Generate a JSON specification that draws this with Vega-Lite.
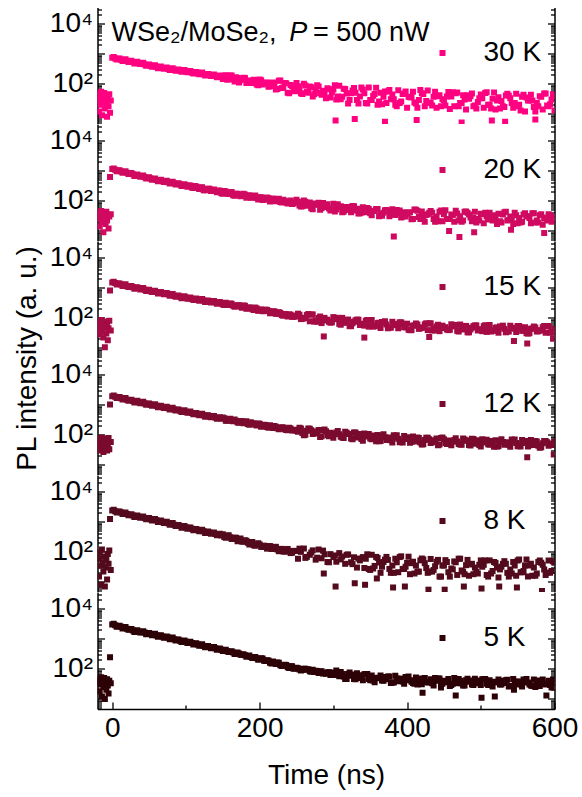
{
"$schema": "https://vega.github.io/schema/vega-lite/v6.json",
"background": "#ffffff",
"padding": {"left": 12.5, "top": 7.5, "right": 4, "bottom": 4},
"spacing": 0,
"bounds": "flush",
"datasets": {
"p30": [{"t":-19,"v":30},{"t":-18,"v":12},{"t":-17,"v":45},{"t":-16,"v":20},{"t":-15,"v":55},{"t":-14,"v":9},{"t":-13,"v":35},{"t":-12,"v":25},{"t":-11,"v":50},{"t":-10,"v":15},{"t":-9,"v":40},{"t":-8,"v":22},{"t":-7,"v":8},{"t":-6,"v":30},{"t":-5,"v":18},{"t":-4,"v":45},{"t":-3,"v":11},{"t":-2,"v":28},
{"t":0,"v":740},{"t":4,"v":705},{"t":8,"v":680},{"t":12,"v":640},{"t":16,"v":620},{"t":20,"v":585},{"t":24,"v":565},{"t":28,"v":535},{"t":32,"v":515},{"t":36,"v":488},{"t":40,"v":470},{"t":44,"v":445},{"t":48,"v":428},{"t":52,"v":405},{"t":56,"v":390},{"t":60,"v":370},
{"t":64,"v":365},{"t":68,"v":340},{"t":72,"v":335},{"t":76,"v":315},{"t":80,"v":312},{"t":84,"v":295},{"t":88,"v":292},{"t":92,"v":276},{"t":96,"v":275},{"t":100,"v":258},{"t":104,"v":258},{"t":108,"v":240},{"t":112,"v":240},{"t":116,"v":225},{"t":120,"v":226},{"t":124,"v":208},{"t":128,"v":210},{"t":132,"v":196},{"t":136,"v":194},{"t":140,"v":182},{"t":144,"v":180},{"t":148,"v":170},
{"t":152,"v":185},{"t":156,"v":138},{"t":160,"v":191},{"t":164,"v":140},{"t":168,"v":167},{"t":172,"v":111},{"t":176,"v":142},{"t":180,"v":158},{"t":184,"v":112},{"t":188,"v":120},{"t":192,"v":137},{"t":196,"v":95},{"t":200,"v":139},{"t":204,"v":96},{"t":208,"v":109},{"t":212,"v":80},{"t":216,"v":106},
{"t":220,"v":97},{"t":224,"v":68},{"t":228,"v":130},{"t":232,"v":76},{"t":236,"v":104},{"t":240,"v":49},{"t":244,"v":85},{"t":248,"v":57},{"t":252,"v":84},{"t":256,"v":49},{"t":260,"v":100},{"t":264,"v":55},{"t":268,"v":82},{"t":272,"v":38},{"t":276,"v":64},{"t":280,"v":81},{"t":284,"v":43},{"t":288,"v":50},{"t":292,"v":72},{"t":296,"v":35},
{"t":300,"v":65},{"t":304,"v":30},{"t":308,"v":87},{"t":312,"v":37},{"t":316,"v":68},{"t":320,"v":22},{"t":324,"v":49},{"t":328,"v":73},{"t":332,"v":29},{"t":336,"v":38},{"t":340,"v":65},{"t":344,"v":23},{"t":348,"v":76},{"t":352,"v":29},{"t":356,"v":46},{"t":360,"v":20},{"t":364,"v":51},{"t":368,"v":37},{"t":372,"v":23},{"t":376,"v":63},{"t":380,"v":44},{"t":384,"v":20},{"t":388,"v":61},{"t":392,"v":26},{"t":396,"v":48},{"t":400,"v":16},{"t":404,"v":36},{"t":408,"v":55},{"t":412,"v":22},{"t":416,"v":29},{"t":420,"v":49},{"t":424,"v":18},{"t":428,"v":60},{"t":432,"v":23},{"t":436,"v":37},{"t":440,"v":16},{"t":444,"v":42},{"t":448,"v":31},{"t":452,"v":19},{"t":456,"v":54},{"t":460,"v":38},{"t":464,"v":18},{"t":468,"v":52},{"t":472,"v":23},{"t":476,"v":42},{"t":480,"v":14},{"t":484,"v":32},{"t":488,"v":48},{"t":492,"v":19},{"t":496,"v":25},{"t":500,"v":44},{"t":504,"v":16},{"t":508,"v":53},{"t":512,"v":20},{"t":516,"v":32},{"t":520,"v":14},{"t":524,"v":36},{"t":528,"v":27},{"t":532,"v":17},{"t":536,"v":47},{"t":540,"v":33},{"t":544,"v":16},{"t":548,"v":47},{"t":552,"v":20},{"t":556,"v":37},{"t":560,"v":12},{"t":564,"v":28},{"t":568,"v":43},{"t":572,"v":17},{"t":576,"v":23},{"t":580,"v":39},{"t":584,"v":14},{"t":588,"v":48},{"t":592,"v":18},{"t":596,"v":30},{"t":600,"v":13},
{"t":302,"v":90},{"t":310,"v":31},{"t":318,"v":48},{"t":326,"v":60},{"t":334,"v":22},{"t":342,"v":49},{"t":350,"v":29},{"t":358,"v":74},{"t":366,"v":21},{"t":374,"v":56},{"t":382,"v":31},{"t":390,"v":23},{"t":398,"v":56},{"t":406,"v":36},{"t":414,"v":16},{"t":422,"v":46},{"t":430,"v":24},{"t":438,"v":55},{"t":446,"v":18},{"t":454,"v":38},{"t":462,"v":53},{"t":470,"v":18},{"t":478,"v":30},{"t":486,"v":39},{"t":494,"v":15},{"t":502,"v":33},{"t":510,"v":20},{"t":518,"v":52},{"t":526,"v":15},{"t":534,"v":41},{"t":542,"v":23},{"t":550,"v":18},{"t":558,"v":43},{"t":566,"v":28},{"t":574,"v":12},{"t":582,"v":37},{"t":590,"v":19},{"t":598,"v":45},
{"t":303,"v":6},{"t":329,"v":6.8},{"t":370,"v":5.5},{"t":413,"v":6.2},{"t":474,"v":5.2},{"t":515,"v":6},{"t":533,"v":5.5},{"t":574,"v":6.5},
{"t":2,"v":780},{"t":6,"v":644},{"t":10,"v":700},{"t":14,"v":580},{"t":18,"v":656},{"t":22,"v":540},{"t":26,"v":589},{"t":30,"v":478},{"t":34,"v":541},{"t":38,"v":455},{"t":42,"v":503},{"t":46,"v":401},{"t":50,"v":441},{"t":54,"v":369},{"t":58,"v":414},{"t":62,"v":332},{"t":66,"v":378},{"t":70,"v":319},{"t":74,"v":351},{"t":78,"v":289},{"t":82,"v":334},{"t":86,"v":272},{"t":90,"v":302},{"t":94,"v":252},{"t":98,"v":291},{"t":102,"v":243},{"t":106,"v":269},{"t":110,"v":222},{"t":114,"v":249},{"t":118,"v":209},{"t":122,"v":239},{"t":126,"v":191},{"t":130,"v":215},{"t":134,"v":183},{"t":138,"v":205},{"t":142,"v":167},{"t":146,"v":190},
{"t":150,"v":145},{"t":154,"v":195},{"t":158,"v":145},{"t":162,"v":190},{"t":166,"v":120},{"t":170,"v":157},{"t":174,"v":131},{"t":178,"v":160},{"t":182,"v":107},{"t":186,"v":130},{"t":190,"v":107},{"t":194,"v":132},{"t":198,"v":90},{"t":202,"v":132},{"t":206,"v":101},{"t":210,"v":112},{"t":214,"v":83},{"t":218,"v":111},{"t":222,"v":65},{"t":226,"v":126},{"t":230,"v":73},{"t":234,"v":107},{"t":238,"v":51},{"t":242,"v":91},{"t":246,"v":58},{"t":250,"v":107},{"t":254,"v":66},{"t":258,"v":46},{"t":262,"v":88},{"t":266,"v":51},{"t":270,"v":77},{"t":274,"v":45},{"t":278,"v":90},{"t":282,"v":50},{"t":286,"v":59},{"t":290,"v":33},{"t":294,"v":66},{"t":298,"v":52},
{"t":306,"v":38},{"t":314,"v":69},{"t":322,"v":29},{"t":330,"v":51},{"t":338,"v":75},{"t":346,"v":22},{"t":354,"v":40},{"t":362,"v":26},{"t":370,"v":56},{"t":378,"v":31},{"t":386,"v":18},{"t":394,"v":46},{"t":402,"v":37},{"t":410,"v":24},{"t":418,"v":62},{"t":426,"v":27},{"t":434,"v":19},{"t":442,"v":39},{"t":450,"v":29},{"t":458,"v":14.5},{"t":466,"v":49},{"t":474,"v":23},{"t":482,"v":42},{"t":490,"v":18},{"t":498,"v":33},{"t":506,"v":50},{"t":514,"v":15},{"t":522,"v":28},{"t":530,"v":18},{"t":538,"v":41},{"t":546,"v":23},{"t":554,"v":13},{"t":562,"v":35},{"t":570,"v":28},{"t":578,"v":18},{"t":586,"v":48},{"t":594,"v":21}],
"p20": [{"t":-19,"v":25},{"t":-18,"v":40},{"t":-17,"v":14},{"t":-16,"v":33},{"t":-15,"v":46},{"t":-14,"v":20},{"t":-13,"v":30},{"t":-12,"v":9},{"t":-11,"v":38},{"t":-10,"v":27},{"t":-9,"v":17},{"t":-8,"v":43},{"t":-7,"v":22},{"t":-6,"v":35},{"t":-5,"v":12},{"t":-4,"v":30},{"t":-3,"v":620},{"t":-2,"v":36},
{"t":0,"v":1150},{"t":4,"v":1080},{"t":8,"v":1030},{"t":12,"v":960},{"t":16,"v":915},{"t":20,"v":860},{"t":24,"v":815},{"t":28,"v":765},{"t":32,"v":725},{"t":36,"v":685},{"t":40,"v":655},{"t":44,"v":615},{"t":48,"v":590},{"t":52,"v":555},{"t":56,"v":532},{"t":60,"v":500},{"t":64,"v":480},{"t":68,"v":457},{"t":72,"v":442},{"t":76,"v":418},{"t":80,"v":405},{"t":84,"v":383},{"t":88,"v":371},{"t":92,"v":350},{"t":96,"v":340},{"t":100,"v":322},
{"t":104,"v":326},{"t":108,"v":277},{"t":112,"v":315},{"t":116,"v":266},{"t":120,"v":281},{"t":124,"v":227},{"t":128,"v":247},{"t":132,"v":253},{"t":136,"v":212},{"t":140,"v":212},{"t":144,"v":221},{"t":148,"v":181},{"t":152,"v":212},{"t":156,"v":175},{"t":160,"v":181},{"t":164,"v":155},{"t":168,"v":174},{"t":172,"v":160},{"t":176,"v":144},{"t":180,"v":162},{"t":184,"v":149},{"t":188,"v":127},{"t":192,"v":145},{"t":196,"v":124},{"t":200,"v":132},{"t":204,"v":107},{"t":208,"v":118},{"t":212,"v":122},{"t":216,"v":104},{"t":220,"v":104},{"t":224,"v":110},{"t":228,"v":91},{"t":232,"v":108},{"t":236,"v":89},{"t":240,"v":93},{"t":244,"v":79},{"t":248,"v":90},
{"t":252,"v":93},{"t":256,"v":65},{"t":260,"v":102},{"t":264,"v":69},{"t":268,"v":89},{"t":272,"v":53},{"t":276,"v":74},{"t":280,"v":86},{"t":284,"v":57},{"t":288,"v":62},{"t":292,"v":77},{"t":296,"v":48},{"t":300,"v":80},{"t":304,"v":52},{"t":308,"v":62},{"t":312,"v":42},{"t":316,"v":63},{"t":320,"v":54},{"t":324,"v":42},{"t":328,"v":66},{"t":332,"v":55},{"t":336,"v":39},{"t":340,"v":61},{"t":344,"v":42},{"t":348,"v":54},{"t":352,"v":33},{"t":356,"v":46},{"t":360,"v":54},{"t":364,"v":36},{"t":368,"v":40},{"t":372,"v":50},{"t":376,"v":31},{"t":380,"v":53},{"t":384,"v":34},{"t":388,"v":41},{"t":392,"v":28},{"t":396,"v":42},{"t":400,"v":37},
{"t":404,"v":42},{"t":408,"v":25},{"t":412,"v":51},{"t":416,"v":29},{"t":420,"v":44},{"t":424,"v":20},{"t":428,"v":36},{"t":432,"v":46},{"t":436,"v":25},{"t":440,"v":30},{"t":444,"v":43},{"t":448,"v":21},{"t":452,"v":49},{"t":456,"v":25},{"t":460,"v":35},{"t":464,"v":20},{"t":468,"v":38},{"t":472,"v":31},{"t":476,"v":22},{"t":480,"v":44},{"t":484,"v":35},{"t":488,"v":21},{"t":492,"v":43},{"t":496,"v":25},{"t":500,"v":37},{"t":504,"v":18},{"t":508,"v":30},{"t":512,"v":40},{"t":516,"v":22},{"t":520,"v":26},{"t":524,"v":37},{"t":528,"v":19},{"t":532,"v":42},{"t":536,"v":22},{"t":540,"v":30},{"t":544,"v":17},{"t":548,"v":33},{"t":552,"v":27},{"t":556,"v":20},{"t":560,"v":39},{"t":564,"v":31},{"t":568,"v":18},{"t":572,"v":39},{"t":576,"v":22},{"t":580,"v":33},{"t":584,"v":16},{"t":588,"v":28},{"t":592,"v":36},{"t":596,"v":20},{"t":600,"v":24},
{"t":382,"v":6.5},{"t":457,"v":10},{"t":471,"v":6.2},{"t":491,"v":9},{"t":541,"v":11},{"t":586,"v":8.5},
{"t":2,"v":1200},{"t":6,"v":977},{"t":10,"v":1050},{"t":14,"v":864},{"t":18,"v":966},{"t":22,"v":787},{"t":26,"v":845},{"t":30,"v":678},{"t":34,"v":761},{"t":38,"v":636},{"t":42,"v":699},{"t":46,"v":555},{"t":50,"v":607},{"t":54,"v":506},{"t":58,"v":561},{"t":62,"v":446},{"t":66,"v":502},{"t":70,"v":422},{"t":74,"v":464},{"t":78,"v":379},{"t":82,"v":433},{"t":86,"v":351},{"t":90,"v":383},{"t":94,"v":314},{"t":98,"v":361},{"t":102,"v":298},{"t":106,"v":328},{"t":110,"v":269},{"t":114,"v":300},{"t":118,"v":249},{"t":122,"v":283},{"t":126,"v":225},{"t":130,"v":251},{"t":134,"v":213},{"t":138,"v":238},{"t":142,"v":192},{"t":146,"v":217},
{"t":250,"v":109},{"t":258,"v":66},{"t":266,"v":77},{"t":274,"v":82},{"t":282,"v":51},{"t":290,"v":69},{"t":298,"v":53},{"t":306,"v":77},{"t":314,"v":43},{"t":322,"v":63},{"t":330,"v":48},{"t":338,"v":41},{"t":346,"v":58},{"t":354,"v":47},{"t":362,"v":31},{"t":370,"v":49},{"t":378,"v":36},{"t":386,"v":50},{"t":394,"v":30},{"t":402,"v":40},{"t":410,"v":52},{"t":418,"v":25},{"t":426,"v":34},{"t":434,"v":40},{"t":442,"v":21},{"t":450,"v":36},{"t":458,"v":25},{"t":466,"v":47},{"t":474,"v":20},{"t":482,"v":40},{"t":490,"v":27},{"t":498,"v":22},{"t":506,"v":40},{"t":514,"v":30},{"t":522,"v":17},{"t":530,"v":35},{"t":538,"v":23},{"t":546,"v":40},{"t":554,"v":19},{"t":562,"v":31},{"t":570,"v":39},{"t":578,"v":19},{"t":586,"v":26},{"t":594,"v":32},
{"t":150,"v":174},{"t":154,"v":207},{"t":158,"v":170},{"t":162,"v":199},{"t":166,"v":147},{"t":170,"v":171},{"t":174,"v":143},{"t":178,"v":171},{"t":182,"v":126},{"t":186,"v":153},{"t":190,"v":129},{"t":194,"v":151},{"t":198,"v":112},{"t":202,"v":131},{"t":206,"v":109},{"t":210,"v":129},{"t":214,"v":95},{"t":218,"v":119},{"t":222,"v":97},{"t":226,"v":118},{"t":230,"v":88},{"t":234,"v":101},{"t":238,"v":81},{"t":242,"v":102},{"t":246,"v":82},
{"t":254,"v":70},{"t":262,"v":94},{"t":270,"v":57},{"t":278,"v":76},{"t":286,"v":85},{"t":294,"v":56},{"t":302,"v":44},{"t":310,"v":66},{"t":318,"v":50},{"t":326,"v":67},{"t":334,"v":38},{"t":342,"v":49},{"t":350,"v":39},{"t":358,"v":54},{"t":366,"v":32},{"t":374,"v":46},{"t":382,"v":36},{"t":390,"v":48},{"t":398,"v":30},{"t":406,"v":24.5},{"t":414,"v":47},{"t":422,"v":29},{"t":430,"v":40},{"t":438,"v":20},{"t":446,"v":48},{"t":454,"v":25},{"t":462,"v":34},{"t":470,"v":22},{"t":478,"v":43},{"t":486,"v":28},{"t":494,"v":19},{"t":502,"v":36},{"t":510,"v":24},{"t":518,"v":33},{"t":526,"v":21},{"t":534,"v":43},{"t":542,"v":24},{"t":550,"v":18},{"t":558,"v":35},{"t":566,"v":27},{"t":574,"v":19},{"t":582,"v":36},{"t":590,"v":22},{"t":598,"v":30}],
"p15": [{"t":-19,"v":40},{"t":-18,"v":70},{"t":-17,"v":28},{"t":-16,"v":55},{"t":-15,"v":85},{"t":-14,"v":35},{"t":-13,"v":62},{"t":-12,"v":22},{"t":-11,"v":48},{"t":-10,"v":10.5},{"t":-9,"v":75},{"t":-8,"v":30},{"t":-7,"v":58},{"t":-6,"v":18},{"t":-5,"v":45},{"t":-4,"v":80},{"t":-3,"v":810},{"t":-2,"v":38},
{"t":0,"v":1510},{"t":4,"v":1440},{"t":8,"v":1390},{"t":12,"v":1290},{"t":16,"v":1230},{"t":20,"v":1140},{"t":24,"v":1110},{"t":28,"v":1050},{"t":32,"v":1000},{"t":36,"v":980},{"t":40,"v":912},{"t":44,"v":871},{"t":48,"v":832},{"t":52,"v":775},{"t":56,"v":759},{"t":60,"v":724},{"t":64,"v":692},{"t":68,"v":675},{"t":72,"v":634},{"t":76,"v":607},{"t":80,"v":581},{"t":84,"v":545},{"t":88,"v":532},{"t":92,"v":509},{"t":96,"v":488},{"t":100,"v":478},{"t":104,"v":452},{"t":108,"v":436},{"t":112,"v":422},{"t":116,"v":398},{"t":120,"v":394},{"t":124,"v":380},{"t":128,"v":366},{"t":132,"v":360},{"t":136,"v":342},{"t":140,"v":330},{"t":144,"v":312},{"t":148,"v":308},
{"t":152,"v":268},{"t":156,"v":292},{"t":160,"v":300},{"t":164,"v":252},{"t":168,"v":252},{"t":172,"v":265},{"t":176,"v":217},{"t":180,"v":253},{"t":184,"v":209},{"t":188,"v":215},{"t":192,"v":183},{"t":196,"v":206},{"t":200,"v":188},{"t":204,"v":167},{"t":208,"v":188},{"t":212,"v":171},{"t":216,"v":145},{"t":220,"v":165},{"t":224,"v":139},{"t":228,"v":147},{"t":232,"v":118},{"t":236,"v":129},{"t":240,"v":131},{"t":244,"v":109},{"t":248,"v":111},
{"t":252,"v":138},{"t":256,"v":91},{"t":260,"v":101},{"t":264,"v":124},{"t":268,"v":77},{"t":272,"v":130},{"t":276,"v":83},{"t":280,"v":99},{"t":284,"v":67},{"t":288,"v":100},{"t":292,"v":87},{"t":296,"v":69},{"t":300,"v":106},{"t":304,"v":90},{"t":308,"v":63},{"t":312,"v":100},{"t":316,"v":68},{"t":320,"v":88},{"t":324,"v":53},{"t":328,"v":74},{"t":332,"v":87},{"t":336,"v":58},{"t":340,"v":64},{"t":344,"v":80},{"t":348,"v":51},{"t":352,"v":85},{"t":356,"v":55},{"t":360,"v":67},{"t":364,"v":46},{"t":368,"v":69},{"t":372,"v":60},{"t":376,"v":48},{"t":380,"v":74},{"t":384,"v":63},{"t":388,"v":45},{"t":392,"v":71},{"t":396,"v":49},{"t":400,"v":64},
{"t":404,"v":39},{"t":408,"v":55},{"t":412,"v":65},{"t":416,"v":43},{"t":420,"v":48},{"t":424,"v":61},{"t":428,"v":39},{"t":432,"v":66},{"t":436,"v":43},{"t":440,"v":52},{"t":444,"v":36},{"t":448,"v":55},{"t":452,"v":49},{"t":456,"v":39},{"t":460,"v":61},{"t":464,"v":52},{"t":468,"v":37},{"t":472,"v":60},{"t":476,"v":41},{"t":480,"v":54},{"t":484,"v":33},{"t":488,"v":47},{"t":492,"v":56},{"t":496,"v":38},{"t":500,"v":42},{"t":504,"v":53},{"t":508,"v":34},{"t":512,"v":58},{"t":516,"v":38},{"t":520,"v":47},{"t":524,"v":32},{"t":528,"v":49},{"t":532,"v":43},{"t":536,"v":35},{"t":540,"v":55},{"t":544,"v":47},{"t":548,"v":34},{"t":552,"v":54},{"t":556,"v":37},{"t":560,"v":49},{"t":564,"v":30},{"t":568,"v":43},{"t":572,"v":52},{"t":576,"v":35},{"t":580,"v":39},{"t":584,"v":49},{"t":588,"v":32},{"t":592,"v":54},{"t":596,"v":36},{"t":600,"v":43},
{"t":287,"v":24},{"t":342,"v":22},{"t":430,"v":23},{"t":545,"v":17},{"t":563,"v":14},{"t":598,"v":20},
{"t":2,"v":1590},{"t":6,"v":1300},{"t":10,"v":1400},{"t":14,"v":1160},{"t":18,"v":1310},{"t":22,"v":1070},{"t":26,"v":1160},{"t":30,"v":933},{"t":34,"v":1055},{"t":38,"v":886},{"t":42,"v":980},{"t":46,"v":783},{"t":50,"v":862},{"t":54,"v":722},{"t":58,"v":808},{"t":62,"v":644},{"t":66,"v":724},{"t":70,"v":609},{"t":74,"v":670},{"t":78,"v":546},{"t":82,"v":625},{"t":86,"v":506},{"t":90,"v":551},{"t":94,"v":453},{"t":98,"v":521},{"t":102,"v":432},{"t":106,"v":480},{"t":110,"v":395},{"t":114,"v":443},{"t":118,"v":372},{"t":122,"v":426},{"t":126,"v":339},{"t":130,"v":382},{"t":134,"v":327},{"t":138,"v":366},{"t":142,"v":298},{"t":146,"v":338},
{"t":250,"v":120},{"t":258,"v":93},{"t":266,"v":134},{"t":274,"v":75},{"t":282,"v":111},{"t":290,"v":82},{"t":298,"v":71},{"t":306,"v":100},{"t":314,"v":80},{"t":322,"v":53},{"t":330,"v":83},{"t":338,"v":61},{"t":346,"v":85},{"t":354,"v":51},{"t":362,"v":69},{"t":370,"v":77},{"t":378,"v":47},{"t":386,"v":57},{"t":394,"v":63},{"t":402,"v":40},{"t":410,"v":56},{"t":418,"v":45},{"t":426,"v":66},{"t":434,"v":38},{"t":442,"v":59},{"t":450,"v":46},{"t":458,"v":40},{"t":466,"v":58},{"t":474,"v":48},{"t":482,"v":33},{"t":490,"v":53},{"t":498,"v":40},{"t":506,"v":57},{"t":514,"v":35},{"t":522,"v":48},{"t":530,"v":55},{"t":538,"v":35},{"t":546,"v":43},{"t":554,"v":48},{"t":562,"v":31},{"t":570,"v":44},{"t":578,"v":36},{"t":586,"v":54},{"t":594,"v":32},
{"t":150,"v":279},{"t":154,"v":318},{"t":158,"v":266},{"t":162,"v":297},{"t":166,"v":234},{"t":170,"v":263},{"t":174,"v":233},{"t":178,"v":256},{"t":182,"v":202},{"t":186,"v":226},{"t":190,"v":193},{"t":194,"v":221},{"t":198,"v":171},{"t":202,"v":189},{"t":206,"v":168},{"t":210,"v":184},{"t":214,"v":142},{"t":218,"v":164},{"t":222,"v":136},{"t":226,"v":155},{"t":230,"v":123},{"t":234,"v":135},{"t":238,"v":111},{"t":242,"v":128},{"t":246,"v":108},
{"t":254,"v":127},{"t":262,"v":97},{"t":270,"v":129},{"t":278,"v":74},{"t":286,"v":92},{"t":294,"v":74},{"t":302,"v":100},{"t":310,"v":59},{"t":318,"v":84},{"t":326,"v":66},{"t":334,"v":87},{"t":342,"v":55},{"t":350,"v":65},{"t":358,"v":53},{"t":366,"v":73},{"t":374,"v":45},{"t":382,"v":61},{"t":390,"v":71},{"t":398,"v":48},{"t":406,"v":39},{"t":414,"v":60},{"t":422,"v":47},{"t":430,"v":65},{"t":438,"v":38},{"t":446,"v":50},{"t":454,"v":41},{"t":462,"v":58},{"t":470,"v":35},{"t":478,"v":51},{"t":486,"v":41},{"t":494,"v":56},{"t":502,"v":36},{"t":510,"v":44},{"t":518,"v":37},{"t":526,"v":52},{"t":534,"v":33},{"t":542,"v":46},{"t":550,"v":54},{"t":558,"v":37},{"t":566,"v":31},{"t":574,"v":48},{"t":582,"v":38},{"t":590,"v":53},{"t":598,"v":32}],
"p12": [{"t":-19,"v":50},{"t":-18,"v":30},{"t":-17,"v":70},{"t":-16,"v":42},{"t":-15,"v":81},{"t":-14,"v":35},{"t":-13,"v":60},{"t":-12,"v":27},{"t":-11,"v":55},{"t":-10,"v":75},{"t":-9,"v":38},{"t":-8,"v":65},{"t":-7,"v":30},{"t":-6,"v":48},{"t":-5,"v":78},{"t":-4,"v":33},{"t":-3,"v":1020},{"t":-2,"v":58},
{"t":0,"v":1950},{"t":4,"v":1850},{"t":8,"v":1780},{"t":12,"v":1650},{"t":16,"v":1590},{"t":20,"v":1490},{"t":24,"v":1440},{"t":28,"v":1340},{"t":32,"v":1300},{"t":36,"v":1220},{"t":40,"v":1180},{"t":44,"v":1110},{"t":48,"v":1080},{"t":52,"v":1010},{"t":56,"v":985},{"t":60,"v":925},{"t":64,"v":895},{"t":68,"v":845},{"t":72,"v":820},{"t":76,"v":770},{"t":80,"v":745},{"t":84,"v":700},{"t":88,"v":680},{"t":92,"v":640},{"t":96,"v":620},{"t":100,"v":585},{"t":104,"v":568},{"t":108,"v":535},{"t":112,"v":520},{"t":116,"v":488},{"t":120,"v":477},{"t":124,"v":448},{"t":128,"v":438},{"t":132,"v":410},{"t":136,"v":402},{"t":140,"v":376},{"t":144,"v":368},{"t":148,"v":344},
{"t":152,"v":361},{"t":156,"v":295},{"t":160,"v":346},{"t":164,"v":286},{"t":168,"v":296},{"t":172,"v":251},{"t":176,"v":282},{"t":180,"v":259},{"t":184,"v":232},{"t":188,"v":262},{"t":192,"v":240},{"t":196,"v":206},{"t":200,"v":235},{"t":204,"v":201},{"t":208,"v":214},{"t":212,"v":174},{"t":216,"v":191},{"t":220,"v":197},{"t":224,"v":166},{"t":228,"v":167},{"t":232,"v":177},{"t":236,"v":145},{"t":240,"v":171},{"t":244,"v":142},{"t":248,"v":148},
{"t":252,"v":127},{"t":256,"v":164},{"t":260,"v":98},{"t":264,"v":138},{"t":268,"v":160},{"t":272,"v":106},{"t":276,"v":116},{"t":280,"v":144},{"t":284,"v":90},{"t":288,"v":150},{"t":292,"v":97},{"t":296,"v":117},{"t":300,"v":80},{"t":304,"v":119},{"t":308,"v":104},{"t":312,"v":82},{"t":316,"v":127},{"t":320,"v":107},{"t":324,"v":75},{"t":328,"v":121},{"t":332,"v":82},{"t":336,"v":106},{"t":340,"v":64},{"t":344,"v":91},{"t":348,"v":107},{"t":352,"v":71},{"t":356,"v":79},{"t":360,"v":99},{"t":364,"v":62},{"t":368,"v":105},{"t":372,"v":68},{"t":376,"v":82},{"t":380,"v":56},{"t":384,"v":85},{"t":388,"v":74},{"t":392,"v":59},{"t":396,"v":92},{"t":400,"v":78},{"t":404,"v":55},{"t":408,"v":88},{"t":412,"v":60},{"t":416,"v":78},{"t":420,"v":48},{"t":424,"v":67},{"t":428,"v":80},{"t":432,"v":54},{"t":436,"v":60},{"t":440,"v":76},{"t":444,"v":48},{"t":448,"v":82},{"t":452,"v":54},{"t":456,"v":65},{"t":460,"v":45},{"t":464,"v":68},{"t":468,"v":60},{"t":472,"v":48},{"t":476,"v":75},{"t":480,"v":65},{"t":484,"v":46},{"t":488,"v":74},{"t":492,"v":51},{"t":496,"v":66},{"t":500,"v":41},{"t":504,"v":58},{"t":508,"v":69},{"t":512,"v":47},{"t":516,"v":52},{"t":520,"v":66},{"t":524,"v":42},{"t":528,"v":72},{"t":532,"v":47},{"t":536,"v":57},{"t":540,"v":40},{"t":544,"v":61},{"t":548,"v":54},{"t":552,"v":43},{"t":556,"v":67},{"t":560,"v":58},{"t":564,"v":41},{"t":568,"v":67},{"t":572,"v":46},{"t":576,"v":60},{"t":580,"v":37},{"t":584,"v":53},{"t":588,"v":63},{"t":592,"v":43},{"t":596,"v":48},{"t":600,"v":60},
{"t":563,"v":18},{"t":599,"v":22},
{"t":2,"v":2050},{"t":6,"v":1680},{"t":10,"v":1820},{"t":14,"v":1495},{"t":18,"v":1680},{"t":22,"v":1377},{"t":26,"v":1487},{"t":30,"v":1201},{"t":34,"v":1361},{"t":38,"v":1140},{"t":42,"v":1262},{"t":46,"v":1007},{"t":50,"v":1108},{"t":54,"v":928},{"t":58,"v":1041},{"t":62,"v":830},{"t":66,"v":932},{"t":70,"v":782},{"t":74,"v":858},{"t":78,"v":697},{"t":82,"v":796},{"t":86,"v":644},{"t":90,"v":701},{"t":94,"v":574},{"t":98,"v":657},{"t":102,"v":541},{"t":106,"v":596},{"t":110,"v":486},{"t":114,"v":540},{"t":118,"v":449},{"t":122,"v":509},{"t":126,"v":404},{"t":130,"v":451},{"t":134,"v":383},{"t":138,"v":424},{"t":142,"v":343},{"t":146,"v":386},
{"t":250,"v":138},{"t":258,"v":116},{"t":266,"v":163},{"t":274,"v":129},{"t":282,"v":85},{"t":290,"v":132},{"t":298,"v":96},{"t":306,"v":134},{"t":314,"v":79},{"t":322,"v":106},{"t":330,"v":119},{"t":338,"v":73},{"t":346,"v":88},{"t":354,"v":95},{"t":362,"v":61},{"t":370,"v":84},{"t":378,"v":66},{"t":386,"v":98},{"t":394,"v":56},{"t":402,"v":84},{"t":410,"v":65},{"t":418,"v":56},{"t":426,"v":80},{"t":434,"v":66},{"t":442,"v":45},{"t":450,"v":72},{"t":458,"v":54},{"t":466,"v":77},{"t":474,"v":47},{"t":482,"v":64},{"t":490,"v":73},{"t":498,"v":46},{"t":506,"v":56},{"t":514,"v":63},{"t":522,"v":41},{"t":530,"v":58},{"t":538,"v":47},{"t":546,"v":70},{"t":554,"v":41},{"t":562,"v":63},{"t":570,"v":49},{"t":578,"v":43},{"t":586,"v":63},{"t":594,"v":52},
{"t":150,"v":376},{"t":154,"v":295},{"t":158,"v":331},{"t":162,"v":294},{"t":166,"v":325},{"t":170,"v":256},{"t":174,"v":287},{"t":178,"v":245},{"t":182,"v":282},{"t":186,"v":218},{"t":190,"v":243},{"t":194,"v":216},{"t":198,"v":239},{"t":202,"v":187},{"t":206,"v":218},{"t":210,"v":183},{"t":214,"v":211},{"t":218,"v":169},{"t":222,"v":187},{"t":226,"v":155},{"t":230,"v":181},{"t":234,"v":153},{"t":238,"v":143},{"t":242,"v":164},{"t":246,"v":139},
{"t":254,"v":173},{"t":262,"v":101},{"t":270,"v":142},{"t":278,"v":110},{"t":286,"v":144},{"t":294,"v":90},{"t":302,"v":106},{"t":310,"v":86},{"t":318,"v":117},{"t":326,"v":72},{"t":334,"v":98},{"t":342,"v":112},{"t":350,"v":75},{"t":358,"v":61},{"t":366,"v":93},{"t":374,"v":72},{"t":382,"v":98},{"t":390,"v":57},{"t":398,"v":73},{"t":406,"v":59},{"t":414,"v":82},{"t":422,"v":49},{"t":430,"v":71},{"t":438,"v":57},{"t":446,"v":78},{"t":454,"v":50},{"t":462,"v":60},{"t":470,"v":50},{"t":478,"v":70},{"t":486,"v":44},{"t":494,"v":61},{"t":502,"v":71},{"t":510,"v":49},{"t":518,"v":40},{"t":526,"v":63},{"t":534,"v":50},{"t":542,"v":70},{"t":550,"v":42},{"t":558,"v":54},{"t":566,"v":45},{"t":574,"v":63},{"t":582,"v":39},{"t":590,"v":57},{"t":598,"v":46}],
"p8": [{"t":-19,"v":60},{"t":-18,"v":15},{"t":-17,"v":95},{"t":-16,"v":35},{"t":-15,"v":8},{"t":-14,"v":120},{"t":-13,"v":45},{"t":-12,"v":22},{"t":-11,"v":70},{"t":-10,"v":7},{"t":-9,"v":30},{"t":-8,"v":55},{"t":-7,"v":12},{"t":-6,"v":85},{"t":-5,"v":40},{"t":-4,"v":110},{"t":-3,"v":1250},{"t":-2,"v":25},
{"t":0,"v":2400},{"t":4,"v":2270},{"t":8,"v":2190},{"t":12,"v":2030},{"t":16,"v":1920},{"t":20,"v":1820},{"t":24,"v":1690},{"t":28,"v":1630},{"t":32,"v":1550},{"t":36,"v":1480},{"t":40,"v":1440},{"t":44,"v":1350},{"t":48,"v":1290},{"t":52,"v":1230},{"t":56,"v":1150},{"t":60,"v":1120},{"t":64,"v":1070},{"t":68,"v":1010},{"t":72,"v":975},{"t":76,"v":902},{"t":80,"v":853},{"t":84,"v":807},{"t":88,"v":745},{"t":92,"v":723},{"t":96,"v":682},{"t":100,"v":646},{"t":104,"v":630},{"t":108,"v":586},{"t":112,"v":558},{"t":116,"v":532},{"t":120,"v":495},{"t":124,"v":483},{"t":128,"v":459},{"t":132,"v":438},{"t":136,"v":425},{"t":140,"v":397},{"t":144,"v":378},{"t":148,"v":352},
{"t":152,"v":313},{"t":156,"v":343},{"t":160,"v":306},{"t":164,"v":268},{"t":168,"v":295},{"t":172,"v":265},{"t":176,"v":220},{"t":180,"v":244},{"t":184,"v":202},{"t":188,"v":210},{"t":192,"v":166},{"t":196,"v":176},{"t":200,"v":177},{"t":204,"v":147},{"t":208,"v":148},{"t":212,"v":153},{"t":216,"v":125},{"t":220,"v":146},{"t":224,"v":120},{"t":228,"v":123},{"t":232,"v":104},{"t":236,"v":116},{"t":240,"v":105},{"t":244,"v":94},{"t":248,"v":107},
{"t":252,"v":59},{"t":256,"v":100},{"t":260,"v":129},{"t":264,"v":68},{"t":268,"v":80},{"t":272,"v":112},{"t":276,"v":55},{"t":280,"v":120},{"t":284,"v":61},{"t":288,"v":83},{"t":292,"v":46},{"t":296,"v":84},{"t":300,"v":67},{"t":304,"v":47},{"t":308,"v":91},{"t":312,"v":70},{"t":316,"v":40},{"t":320,"v":82},{"t":324,"v":45},{"t":328,"v":66},{"t":332,"v":30},{"t":336,"v":52},{"t":340,"v":67},
{"t":344,"v":59},{"t":348,"v":27},{"t":352,"v":80},{"t":356,"v":34},{"t":360,"v":63},{"t":364,"v":20},{"t":368,"v":46},{"t":372,"v":68},{"t":376,"v":27},{"t":380,"v":35},{"t":384,"v":59},{"t":388,"v":21},{"t":392,"v":71},{"t":396,"v":27},{"t":400,"v":43},{"t":404,"v":18},{"t":408,"v":47},{"t":412,"v":35},{"t":416,"v":22},{"t":420,"v":60},{"t":424,"v":42},{"t":428,"v":20},{"t":432,"v":58},{"t":436,"v":25},{"t":440,"v":47},{"t":444,"v":15},{"t":448,"v":35},{"t":452,"v":53},{"t":456,"v":21},{"t":460,"v":28},{"t":464,"v":48},{"t":468,"v":17},{"t":472,"v":59},{"t":476,"v":22},{"t":480,"v":36},{"t":484,"v":16},{"t":488,"v":40},{"t":492,"v":30},{"t":496,"v":19},{"t":500,"v":52},{"t":504,"v":37},{"t":508,"v":17},{"t":512,"v":52},{"t":516,"v":23},{"t":520,"v":43},{"t":524,"v":14},{"t":528,"v":32},{"t":532,"v":49},{"t":536,"v":20},{"t":540,"v":26},{"t":544,"v":46},{"t":548,"v":16},{"t":552,"v":56},{"t":556,"v":21},{"t":560,"v":35},{"t":564,"v":15},{"t":568,"v":40},{"t":572,"v":30},{"t":576,"v":19},{"t":580,"v":52},{"t":584,"v":37},{"t":588,"v":17},{"t":592,"v":52},{"t":596,"v":23},{"t":600,"v":43},
{"t":346,"v":83},{"t":354,"v":28},{"t":362,"v":44},{"t":370,"v":55},{"t":378,"v":20},{"t":386,"v":45},{"t":394,"v":27},{"t":402,"v":69},{"t":410,"v":19},{"t":418,"v":52},{"t":426,"v":29},{"t":434,"v":22},{"t":442,"v":54},{"t":450,"v":35},{"t":458,"v":15},{"t":466,"v":45},{"t":474,"v":24},{"t":482,"v":54},{"t":490,"v":18},{"t":498,"v":37},{"t":506,"v":52},{"t":514,"v":19},{"t":522,"v":30},{"t":530,"v":40},{"t":538,"v":15},{"t":546,"v":35},{"t":554,"v":21},{"t":562,"v":56},{"t":570,"v":16},{"t":578,"v":46},{"t":586,"v":26},{"t":594,"v":20},
{"t":287,"v":19},{"t":303,"v":7},{"t":329,"v":9},{"t":343,"v":8},{"t":359,"v":13},{"t":381,"v":6.5},{"t":397,"v":7},{"t":429,"v":5.5},{"t":451,"v":5.5},{"t":477,"v":7},{"t":501,"v":6},{"t":525,"v":7},{"t":549,"v":6.5},{"t":583,"v":5},
{"t":2,"v":2520},{"t":6,"v":2055},{"t":10,"v":2215},{"t":14,"v":1817},{"t":18,"v":2038},{"t":22,"v":1664},{"t":26,"v":1792},{"t":30,"v":1447},{"t":34,"v":1636},{"t":38,"v":1373},{"t":42,"v":1518},{"t":46,"v":1214},{"t":50,"v":1336},{"t":54,"v":1118},{"t":58,"v":1250},{"t":62,"v":996},{"t":66,"v":1113},{"t":70,"v":923},{"t":74,"v":1002},{"t":78,"v":807},{"t":82,"v":913},{"t":86,"v":730},{"t":90,"v":788},{"t":94,"v":639},{"t":98,"v":724},{"t":102,"v":592},{"t":106,"v":648},{"t":110,"v":526},{"t":114,"v":583},{"t":118,"v":483},{"t":122,"v":545},{"t":126,"v":429},{"t":130,"v":475},{"t":134,"v":401},{"t":138,"v":444},{"t":142,"v":356},{"t":146,"v":399},
{"t":150,"v":387},{"t":154,"v":293},{"t":158,"v":357},{"t":162,"v":270},{"t":166,"v":295},{"t":170,"v":224},{"t":174,"v":281},{"t":178,"v":218},{"t":182,"v":234},{"t":186,"v":176},{"t":190,"v":215},{"t":194,"v":160},{"t":198,"v":194},{"t":202,"v":147},{"t":206,"v":161},{"t":210,"v":128},{"t":214,"v":156},{"t":218,"v":125},{"t":222,"v":147},{"t":226,"v":105},{"t":230,"v":126},{"t":234,"v":101},{"t":238,"v":125},{"t":242,"v":91},{"t":246,"v":108},
{"t":254,"v":128},{"t":262,"v":63},{"t":270,"v":95},{"t":278,"v":64},{"t":286,"v":110},{"t":294,"v":45},{"t":302,"v":76},{"t":310,"v":56},{"t":318,"v":80},{"t":326,"v":39},{"t":334,"v":60},{"t":342,"v":29},{"t":350,"v":25},{"t":358,"v":68},{"t":366,"v":32},{"t":374,"v":54},{"t":382,"v":20},{"t":390,"v":67},{"t":398,"v":32},{"t":406,"v":42},{"t":414,"v":22},{"t":422,"v":56},{"t":430,"v":22},{"t":438,"v":33},{"t":446,"v":15},{"t":454,"v":46},{"t":462,"v":26},{"t":470,"v":59},{"t":478,"v":18},{"t":486,"v":38},{"t":494,"v":22},{"t":502,"v":32},{"t":510,"v":15},{"t":518,"v":46},{"t":526,"v":26},{"t":534,"v":40},{"t":542,"v":19},{"t":550,"v":52},{"t":558,"v":23},{"t":566,"v":35},{"t":574,"v":16},{"t":582,"v":43},{"t":590,"v":20},{"t":598,"v":49}],
"p5": [{"t":-19,"v":30},{"t":-18,"v":48},{"t":-17,"v":18},{"t":-16,"v":38},{"t":-15,"v":53},{"t":-14,"v":12},{"t":-13,"v":42},{"t":-12,"v":25},{"t":-11,"v":50},{"t":-10,"v":10},{"t":-9,"v":35},{"t":-8,"v":20},{"t":-7,"v":45},{"t":-6,"v":28},{"t":-5,"v":15},{"t":-4,"v":40},{"t":-3,"v":245},{"t":-2,"v":33},
{"t":0,"v":3020},{"t":4,"v":2830},{"t":8,"v":2650},{"t":12,"v":2540},{"t":16,"v":2330},{"t":20,"v":2190},{"t":24,"v":2050},{"t":28,"v":1880},{"t":32,"v":1820},{"t":36,"v":1740},{"t":40,"v":1660},{"t":44,"v":1620},{"t":48,"v":1510},{"t":52,"v":1445},{"t":56,"v":1380},{"t":60,"v":1290},{"t":64,"v":1260},{"t":68,"v":1195},{"t":72,"v":1135},{"t":76,"v":1100},{"t":80,"v":1025},{"t":84,"v":975},{"t":88,"v":927},{"t":92,"v":865},{"t":96,"v":836},{"t":100,"v":794},{"t":104,"v":755},{"t":108,"v":730},{"t":112,"v":682},{"t":116,"v":649},{"t":120,"v":617},{"t":124,"v":578},{"t":128,"v":558},{"t":132,"v":531},{"t":136,"v":505},{"t":140,"v":490},{"t":144,"v":456},{"t":148,"v":434},{"t":152,"v":412},{"t":156,"v":385},{"t":160,"v":371},{"t":164,"v":351},{"t":168,"v":333},{"t":172,"v":322},{"t":176,"v":298},{"t":180,"v":282},{"t":184,"v":267},{"t":188,"v":247},{"t":192,"v":239},{"t":196,"v":226},{"t":200,"v":214},
{"t":204,"v":221},{"t":208,"v":183},{"t":212,"v":190},{"t":216,"v":151},{"t":220,"v":161},{"t":224,"v":162},{"t":228,"v":133},{"t":232,"v":131},{"t":236,"v":134},{"t":240,"v":107},{"t":244,"v":123},{"t":248,"v":102},{"t":252,"v":105},{"t":256,"v":89},{"t":260,"v":101},{"t":264,"v":93},{"t":268,"v":83},{"t":272,"v":94},{"t":276,"v":86},{"t":280,"v":73},{"t":284,"v":84},{"t":288,"v":72},{"t":292,"v":77},{"t":296,"v":63},{"t":300,"v":69},
{"t":304,"v":89},{"t":308,"v":57},{"t":312,"v":68},{"t":316,"v":46},{"t":320,"v":68},{"t":324,"v":59},{"t":328,"v":46},{"t":332,"v":72},{"t":336,"v":60},{"t":340,"v":42},{"t":344,"v":67},{"t":348,"v":46},{"t":352,"v":60},{"t":356,"v":36},{"t":360,"v":51},{"t":364,"v":60},{"t":368,"v":40},{"t":372,"v":45},{"t":376,"v":56},{"t":380,"v":35},{"t":384,"v":59},{"t":388,"v":39},{"t":392,"v":47},{"t":396,"v":32},{"t":400,"v":48},{"t":404,"v":42},{"t":408,"v":34},{"t":412,"v":52},{"t":416,"v":44},{"t":420,"v":31},{"t":424,"v":50},{"t":428,"v":35},{"t":432,"v":45},{"t":436,"v":28},{"t":440,"v":40},{"t":444,"v":48},{"t":448,"v":32},{"t":452,"v":36},{"t":456,"v":46},{"t":460,"v":29},{"t":464,"v":50},{"t":468,"v":33},{"t":472,"v":40},{"t":476,"v":28},{"t":480,"v":42},{"t":484,"v":37},{"t":488,"v":30},{"t":492,"v":47},{"t":496,"v":40},{"t":500,"v":29},{"t":504,"v":46},{"t":508,"v":32},{"t":512,"v":42},{"t":516,"v":26},{"t":520,"v":37},{"t":524,"v":44},{"t":528,"v":30},{"t":532,"v":34},{"t":536,"v":43},{"t":540,"v":27},{"t":544,"v":46},{"t":548,"v":31},{"t":552,"v":37},{"t":556,"v":26},{"t":560,"v":39},{"t":564,"v":35},{"t":568,"v":28},{"t":572,"v":44},{"t":576,"v":38},{"t":580,"v":27},{"t":584,"v":44},{"t":588,"v":30},{"t":592,"v":40},{"t":596,"v":24},{"t":600,"v":35},
{"t":421,"v":16},{"t":446,"v":24},{"t":466,"v":13},{"t":501,"v":11},{"t":519,"v":12},{"t":545,"v":20},{"t":589,"v":13},
{"t":2,"v":3160},{"t":6,"v":2548},{"t":10,"v":2724},{"t":14,"v":2217},{"t":18,"v":2463},{"t":22,"v":1993},{"t":26,"v":2124},{"t":30,"v":1702},{"t":34,"v":1922},{"t":38,"v":1615},{"t":42,"v":1784},{"t":46,"v":1423},{"t":50,"v":1566},{"t":54,"v":1313},{"t":58,"v":1472},{"t":62,"v":1174},{"t":66,"v":1313},{"t":70,"v":1095},{"t":74,"v":1196},{"t":78,"v":968},{"t":82,"v":1100},{"t":86,"v":884},{"t":90,"v":957},{"t":94,"v":780},{"t":98,"v":888},{"t":102,"v":728},{"t":106,"v":795},{"t":110,"v":644},{"t":114,"v":712},{"t":118,"v":589},{"t":122,"v":662},{"t":126,"v":521},{"t":130,"v":577},{"t":134,"v":487},{"t":138,"v":536},{"t":142,"v":431},{"t":146,"v":481},
{"t":250,"v":109},{"t":258,"v":91},{"t":266,"v":97},{"t":274,"v":78},{"t":282,"v":82},{"t":290,"v":69},{"t":298,"v":75},{"t":306,"v":78},{"t":314,"v":56},{"t":322,"v":76},{"t":330,"v":45},{"t":338,"v":60},{"t":346,"v":67},{"t":354,"v":41},{"t":362,"v":49},{"t":370,"v":54},{"t":378,"v":34},{"t":386,"v":48},{"t":394,"v":38},{"t":402,"v":56},{"t":410,"v":32},{"t":418,"v":48},{"t":426,"v":37},{"t":434,"v":33},{"t":442,"v":48},{"t":450,"v":40},{"t":458,"v":27},{"t":466,"v":44},{"t":474,"v":33},{"t":482,"v":47},{"t":490,"v":29},{"t":498,"v":40},{"t":506,"v":46},{"t":514,"v":29},{"t":522,"v":36},{"t":530,"v":40},{"t":538,"v":26},{"t":546,"v":37},{"t":554,"v":30},{"t":562,"v":46},{"t":570,"v":27},{"t":578,"v":41},{"t":586,"v":32},{"t":594,"v":29},
{"t":150,"v":393},{"t":154,"v":434},{"t":158,"v":362},{"t":162,"v":386},{"t":166,"v":315},{"t":170,"v":353},{"t":174,"v":294},{"t":178,"v":307},{"t":182,"v":255},{"t":186,"v":280},{"t":190,"v":231},{"t":194,"v":249},{"t":198,"v":202},{"t":202,"v":226},{"t":206,"v":185},{"t":210,"v":195},{"t":214,"v":161},{"t":218,"v":176},{"t":222,"v":144},{"t":226,"v":159},{"t":230,"v":125},{"t":234,"v":137},{"t":238,"v":114},{"t":242,"v":122},{"t":246,"v":100},
{"t":254,"v":95},{"t":262,"v":100},{"t":270,"v":80},{"t":278,"v":85},{"t":286,"v":70.5},{"t":294,"v":77},{"t":302,"v":62},{"t":310,"v":79},{"t":318,"v":46},{"t":326,"v":65},{"t":334,"v":50},{"t":342,"v":66},{"t":350,"v":42},{"t":358,"v":50},{"t":366,"v":41},{"t":374,"v":56},{"t":382,"v":35},{"t":390,"v":47},{"t":398,"v":54},{"t":406,"v":37},{"t":414,"v":30},{"t":422,"v":45},{"t":430,"v":36},{"t":438,"v":50},{"t":446,"v":30},{"t":454,"v":39},{"t":462,"v":32},{"t":470,"v":46},{"t":478,"v":28},{"t":486,"v":41},{"t":494,"v":33},{"t":502,"v":45},{"t":510,"v":29},{"t":518,"v":36},{"t":526,"v":30},{"t":534,"v":42},{"t":542,"v":27},{"t":550,"v":38},{"t":558,"v":44},{"t":566,"v":30},{"t":574,"v":25},{"t":582,"v":39},{"t":590,"v":32},{"t":598,"v":44}]
},
"vconcat": [
{"width": 457, "height": 116.5,
 "layer": [
  {"data": {"name": "p30"}, "mark": {"type": "square", "size": 36, "opacity": 1, "clip": true},
   "encoding": {
    "x": {"field": "t", "type": "quantitative", "scale": {"domain": [-20, 600], "nice": false, "zero": false},
      "axis": {"orient": "top", "values": [0,100,200,300,400,500,600], "labels": false, "title": null, "tickSize": {"condition": {"test": "datum.value % 200 == 0", "value": -7}, "value": -4}}},
    "y": {"field": "v", "type": "quantitative", "scale": {"type": "log", "domain": [4.6, 35000], "nice": false},
      "axis": {"orient": "left", "title": null, "values": [5,6,7,8,9,10,20,30,40,50,60,70,80,90,100,200,300,400,500,600,700,800,900,1000,2000,3000,4000,5000,6000,7000,8000,9000,10000,20000,30000], "labelExpr": "datum.value == 10000 ? '10⁴' : datum.value == 100 ? '10²' : ''", "labelFontSize": {"condition": {"test": "datum.value == 100 || datum.value == 10000", "value": 28}, "value": 0}, "labelPadding": 12, "tickSize": {"condition": {"test": "datum.value == 10 || datum.value == 100 || datum.value == 1000 || datum.value == 10000", "value": -7}, "value": -4}}},
    "color": {"datum": "30 K", "type": "nominal", "scale": {"range": ["#ff0080"]}, "legend": {"orient": "none", "legendX": 331, "legendY": 31.5, "title": null}}}},
  {"data": {"values": [{"v": 100}]}, "mark": {"type": "point", "opacity": 0},
   "encoding": {"y": {"field": "v", "type": "quantitative", "axis": {"orient": "right", "title": null, "labels": false, "values": [5,6,7,8,9,10,20,30,40,50,60,70,80,90,100,200,300,400,500,600,700,800,900,1000,2000,3000,4000,5000,6000,7000,8000,9000,10000,20000,30000], "tickSize": {"condition": {"test": "datum.value == 10 || datum.value == 100 || datum.value == 1000 || datum.value == 10000", "value": -7}, "value": -4}}}}},
  {"data": {"values": [{}]}, "mark": {"type": "text", "align": "left", "baseline": "alphabetic", "fontSize": 27, "font": "Liberation Sans", "color": "#000000"},
   "encoding": {"x": {"datum": -1, "type": "quantitative", "axis": null}, "y": {"datum": 2700, "type": "quantitative", "axis": null}, "text": {"value": "WSe₂/MoSe₂,"}}},
  {"data": {"values": [{}]}, "mark": {"type": "text", "align": "left", "baseline": "alphabetic", "fontSize": 27, "font": "Liberation Sans", "fontStyle": "italic", "color": "#000000"},
   "encoding": {"x": {"datum": 240, "type": "quantitative", "axis": null}, "y": {"datum": 2700, "type": "quantitative", "axis": null}, "text": {"value": "P"}}},
  {"data": {"values": [{}]}, "mark": {"type": "text", "align": "left", "baseline": "alphabetic", "fontSize": 27, "font": "Liberation Sans", "color": "#000000"},
   "encoding": {"x": {"datum": 272.5, "type": "quantitative", "axis": null}, "y": {"datum": 2700, "type": "quantitative", "axis": null}, "text": {"value": "= 500 nW"}}}
 ],
 "resolve": {"axis": {"y": "independent"}}},
{"width": 457, "height": 116.5,
 "layer": [
  {"data": {"name": "p20"}, "mark": {"type": "square", "size": 36, "opacity": 1, "clip": true},
   "encoding": {
    "x": {"field": "t", "type": "quantitative", "scale": {"domain": [-20, 600], "nice": false, "zero": false}, "axis": null},
    "y": {"field": "v", "type": "quantitative", "scale": {"type": "log", "domain": [4.6, 35000], "nice": false},
      "axis": {"orient": "left", "title": null, "values": [5,6,7,8,9,10,20,30,40,50,60,70,80,90,100,200,300,400,500,600,700,800,900,1000,2000,3000,4000,5000,6000,7000,8000,9000,10000,20000,30000], "labelExpr": "datum.value == 10000 ? '10⁴' : datum.value == 100 ? '10²' : ''", "labelFontSize": {"condition": {"test": "datum.value == 100 || datum.value == 10000", "value": 28}, "value": 0}, "labelPadding": 12, "tickSize": {"condition": {"test": "datum.value == 10 || datum.value == 100 || datum.value == 1000 || datum.value == 10000", "value": -7}, "value": -4}}},
    "color": {"datum": "20 K", "type": "nominal", "scale": {"range": ["#d00a60"]}, "legend": {"orient": "none", "legendX": 331, "legendY": 31.5, "title": null}}}},
  {"data": {"values": [{"v": 100}]}, "mark": {"type": "point", "opacity": 0},
   "encoding": {"y": {"field": "v", "type": "quantitative", "axis": {"orient": "right", "title": null, "labels": false, "values": [5,6,7,8,9,10,20,30,40,50,60,70,80,90,100,200,300,400,500,600,700,800,900,1000,2000,3000,4000,5000,6000,7000,8000,9000,10000,20000,30000], "tickSize": {"condition": {"test": "datum.value == 10 || datum.value == 100 || datum.value == 1000 || datum.value == 10000", "value": -7}, "value": -4}}}}}
 ],
 "resolve": {"axis": {"y": "independent"}}},
{"width": 457, "height": 116.5,
 "layer": [
  {"data": {"name": "p15"}, "mark": {"type": "square", "size": 36, "opacity": 1, "clip": true},
   "encoding": {
    "x": {"field": "t", "type": "quantitative", "scale": {"domain": [-20, 600], "nice": false, "zero": false}, "axis": null},
    "y": {"field": "v", "type": "quantitative", "scale": {"type": "log", "domain": [4.6, 35000], "nice": false},
      "axis": {"orient": "left", "title": "PL intensity (a. u.)", "titleX": -62, "titleY": 116.5, "titleAngle": 270, "titleAlign": "center", "titleBaseline": "alphabetic", "values": [5,6,7,8,9,10,20,30,40,50,60,70,80,90,100,200,300,400,500,600,700,800,900,1000,2000,3000,4000,5000,6000,7000,8000,9000,10000,20000,30000], "labelExpr": "datum.value == 10000 ? '10⁴' : datum.value == 100 ? '10²' : ''", "labelFontSize": {"condition": {"test": "datum.value == 100 || datum.value == 10000", "value": 28}, "value": 0}, "labelPadding": 12, "tickSize": {"condition": {"test": "datum.value == 10 || datum.value == 100 || datum.value == 1000 || datum.value == 10000", "value": -7}, "value": -4}}},
    "color": {"datum": "15 K", "type": "nominal", "scale": {"range": ["#a50b45"]}, "legend": {"orient": "none", "legendX": 331, "legendY": 31.5, "title": null}}}},
  {"data": {"values": [{"v": 100}]}, "mark": {"type": "point", "opacity": 0},
   "encoding": {"y": {"field": "v", "type": "quantitative", "axis": {"orient": "right", "title": null, "labels": false, "values": [5,6,7,8,9,10,20,30,40,50,60,70,80,90,100,200,300,400,500,600,700,800,900,1000,2000,3000,4000,5000,6000,7000,8000,9000,10000,20000,30000], "tickSize": {"condition": {"test": "datum.value == 10 || datum.value == 100 || datum.value == 1000 || datum.value == 10000", "value": -7}, "value": -4}}}}}
 ],
 "resolve": {"axis": {"y": "independent"}}},
{"width": 457, "height": 116.5,
 "layer": [
  {"data": {"name": "p12"}, "mark": {"type": "square", "size": 36, "opacity": 1, "clip": true},
   "encoding": {
    "x": {"field": "t", "type": "quantitative", "scale": {"domain": [-20, 600], "nice": false, "zero": false}, "axis": null},
    "y": {"field": "v", "type": "quantitative", "scale": {"type": "log", "domain": [4.6, 35000], "nice": false},
      "axis": {"orient": "left", "title": null, "values": [5,6,7,8,9,10,20,30,40,50,60,70,80,90,100,200,300,400,500,600,700,800,900,1000,2000,3000,4000,5000,6000,7000,8000,9000,10000,20000,30000], "labelExpr": "datum.value == 10000 ? '10⁴' : datum.value == 100 ? '10²' : ''", "labelFontSize": {"condition": {"test": "datum.value == 100 || datum.value == 10000", "value": 28}, "value": 0}, "labelPadding": 12, "tickSize": {"condition": {"test": "datum.value == 10 || datum.value == 100 || datum.value == 1000 || datum.value == 10000", "value": -7}, "value": -4}}},
    "color": {"datum": "12 K", "type": "nominal", "scale": {"range": ["#7a0b2e"]}, "legend": {"orient": "none", "legendX": 331, "legendY": 31.5, "title": null}}}},
  {"data": {"values": [{"v": 100}]}, "mark": {"type": "point", "opacity": 0},
   "encoding": {"y": {"field": "v", "type": "quantitative", "axis": {"orient": "right", "title": null, "labels": false, "values": [5,6,7,8,9,10,20,30,40,50,60,70,80,90,100,200,300,400,500,600,700,800,900,1000,2000,3000,4000,5000,6000,7000,8000,9000,10000,20000,30000], "tickSize": {"condition": {"test": "datum.value == 10 || datum.value == 100 || datum.value == 1000 || datum.value == 10000", "value": -7}, "value": -4}}}}}
 ],
 "resolve": {"axis": {"y": "independent"}}},
{"width": 457, "height": 116.5,
 "layer": [
  {"data": {"name": "p8"}, "mark": {"type": "square", "size": 36, "opacity": 1, "clip": true},
   "encoding": {
    "x": {"field": "t", "type": "quantitative", "scale": {"domain": [-20, 600], "nice": false, "zero": false}, "axis": null},
    "y": {"field": "v", "type": "quantitative", "scale": {"type": "log", "domain": [4.6, 35000], "nice": false},
      "axis": {"orient": "left", "title": null, "values": [5,6,7,8,9,10,20,30,40,50,60,70,80,90,100,200,300,400,500,600,700,800,900,1000,2000,3000,4000,5000,6000,7000,8000,9000,10000,20000,30000], "labelExpr": "datum.value == 10000 ? '10⁴' : datum.value == 100 ? '10²' : ''", "labelFontSize": {"condition": {"test": "datum.value == 100 || datum.value == 10000", "value": 28}, "value": 0}, "labelPadding": 12, "tickSize": {"condition": {"test": "datum.value == 10 || datum.value == 100 || datum.value == 1000 || datum.value == 10000", "value": -7}, "value": -4}}},
    "color": {"datum": "8 K", "type": "nominal", "scale": {"range": ["#520a1c"]}, "legend": {"orient": "none", "legendX": 331, "legendY": 31.5, "title": null}}}},
  {"data": {"values": [{"v": 100}]}, "mark": {"type": "point", "opacity": 0},
   "encoding": {"y": {"field": "v", "type": "quantitative", "axis": {"orient": "right", "title": null, "labels": false, "values": [5,6,7,8,9,10,20,30,40,50,60,70,80,90,100,200,300,400,500,600,700,800,900,1000,2000,3000,4000,5000,6000,7000,8000,9000,10000,20000,30000], "tickSize": {"condition": {"test": "datum.value == 10 || datum.value == 100 || datum.value == 1000 || datum.value == 10000", "value": -7}, "value": -4}}}}}
 ],
 "resolve": {"axis": {"y": "independent"}}},
{"width": 457, "height": 116.5,
 "layer": [
  {"data": {"name": "p5"}, "mark": {"type": "square", "size": 36, "opacity": 1, "clip": true},
   "encoding": {
    "x": {"field": "t", "type": "quantitative", "scale": {"domain": [-20, 600], "nice": false, "zero": false},
      "axis": {"orient": "bottom", "title": "Time (ns)", "titlePadding": 19, "values": [0,100,200,300,400,500,600], "labelExpr": "datum.value % 200 == 0 ? datum.label : ''", "labelFontSize": {"condition": {"test": "datum.value % 200 == 0", "value": 28}, "value": 0}, "labelPadding": 12, "tickSize": {"condition": {"test": "datum.value % 200 == 0", "value": -7}, "value": -4}}},
    "y": {"field": "v", "type": "quantitative", "scale": {"type": "log", "domain": [4.6, 35000], "nice": false},
      "axis": {"orient": "left", "title": null, "values": [5,6,7,8,9,10,20,30,40,50,60,70,80,90,100,200,300,400,500,600,700,800,900,1000,2000,3000,4000,5000,6000,7000,8000,9000,10000,20000,30000], "labelExpr": "datum.value == 10000 ? '10⁴' : datum.value == 100 ? '10²' : ''", "labelFontSize": {"condition": {"test": "datum.value == 100 || datum.value == 10000", "value": 28}, "value": 0}, "labelPadding": 12, "tickSize": {"condition": {"test": "datum.value == 10 || datum.value == 100 || datum.value == 1000 || datum.value == 10000", "value": -7}, "value": -4}}},
    "color": {"datum": "5 K", "type": "nominal", "scale": {"range": ["#2d0206"]}, "legend": {"orient": "none", "legendX": 331, "legendY": 31.5, "title": null}}}},
  {"data": {"values": [{"v": 100}]}, "mark": {"type": "point", "opacity": 0},
   "encoding": {"y": {"field": "v", "type": "quantitative", "axis": {"orient": "right", "title": null, "labels": false, "values": [5,6,7,8,9,10,20,30,40,50,60,70,80,90,100,200,300,400,500,600,700,800,900,1000,2000,3000,4000,5000,6000,7000,8000,9000,10000,20000,30000], "tickSize": {"condition": {"test": "datum.value == 10 || datum.value == 100 || datum.value == 1000 || datum.value == 10000", "value": -7}, "value": -4}}}}}
 ],
 "resolve": {"axis": {"y": "independent"}}}
],
"resolve": {"scale": {"x": "independent", "y": "independent", "color": "independent"}, "legend": {"color": "independent"}},
"config": {
 "view": {"stroke": null},
 "font": "Liberation Sans",
 "axis": {"domainColor": "#000000", "domainWidth": 1.5, "tickColor": "#000000", "tickWidth": 1.3, "grid": false, "labelFont": "Liberation Sans", "labelFontSize": 28, "labelColor": "#000000", "titleFont": "Liberation Sans", "titleFontSize": 28, "titleFontWeight": "normal", "titleColor": "#000000", "labelOverlap": false, "labelFlush": false},
 "legend": {"labelFont": "Liberation Sans", "labelFontSize": 28, "labelColor": "#000000", "symbolType": "square", "symbolSize": 36, "symbolStrokeWidth": 0, "symbolOpacity": 1, "padding": 0, "labelOffset": 27}
}
}
